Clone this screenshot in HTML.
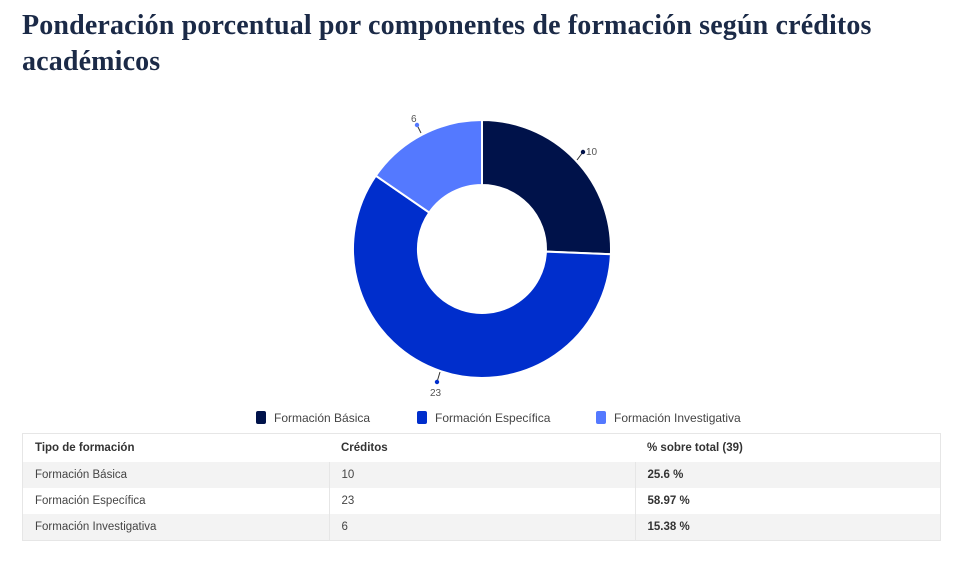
<!DOCTYPE html>
<html><head><meta charset="utf-8"><style>
body{margin:0;background:#fff;width:966px;height:573px;position:relative;font-family:"Liberation Sans",sans-serif;}
h1{position:absolute;left:22px;top:8px;margin:0;font-family:"Liberation Serif",serif;font-weight:bold;font-size:28px;letter-spacing:0.15px;line-height:36px;color:#1b2a47;width:930px;}
table{position:absolute;left:22px;top:433px;width:919px;border-collapse:collapse;font-size:11.5px;color:#444;border:1px solid #e6e6e6;}
td{height:26px;padding:0 0 0 12px;border-right:1px solid #e6e6e6;}
td:last-child{border-right:none}
tr.g td{background:#f3f3f3}
th{height:26px;text-align:left;padding-left:12px;font-weight:bold;color:#333;}
.b{font-weight:bold;color:#333}
.leg{position:absolute;top:411px;font-size:12px;color:#444;}
.leg i{display:inline-block;width:10px;height:13px;border-radius:2px;vertical-align:-2px;margin-right:8px;}
</style></head><body>
<h1>Ponderación porcentual por componentes de formación según créditos académicos</h1>
<svg width="966" height="410" style="position:absolute;left:0;top:0">
<path d="M482,120 A129,129 0 0 1 610.9,254.2 L545.9,251.6 A64,64 0 0 0 482,185 Z" fill="#00124a" stroke="#fff" stroke-width="2"/>
<path d="M610.9,254.2 A129,129 0 1 1 375.8,175.7 L429.3,212.6 A64,64 0 1 0 545.9,251.6 Z" fill="#002ecc" stroke="#fff" stroke-width="2"/>
<path d="M375.8,175.7 A129,129 0 0 1 482,120 L482,185 A64,64 0 0 0 429.3,212.6 Z" fill="#5479ff" stroke="#fff" stroke-width="2"/>
<g font-size="10" fill="#555" font-family="Liberation Sans,sans-serif">
<line x1="577" y1="160" x2="583" y2="152" stroke="#333"/><circle cx="583" cy="152" r="2.2" fill="#00124a"/><text x="586" y="155">10</text>
<line x1="421" y1="133" x2="417" y2="125" stroke="#333"/><circle cx="417" cy="125" r="2.2" fill="#5479ff"/><text x="411" y="122">6</text>
<line x1="440" y1="372" x2="437" y2="382" stroke="#333"/><circle cx="437" cy="382" r="2.2" fill="#002ecc"/><text x="430" y="396">23</text>
</g></svg>
<div class="leg" style="left:256px"><i style="background:#00124a"></i>Formación Básica</div>
<div class="leg" style="left:417px"><i style="background:#002ecc"></i>Formación Específica</div>
<div class="leg" style="left:596px"><i style="background:#5479ff"></i>Formación Investigativa</div>
<table>
<tr><th style="width:293px">Tipo de formación</th><th style="width:293px">Créditos</th><th>% sobre total (39)</th></tr>
<tr class="g"><td>Formación Básica</td><td>10</td><td class="b">25.6 %</td></tr>
<tr><td>Formación Específica</td><td>23</td><td class="b">58.97 %</td></tr>
<tr class="g"><td>Formación Investigativa</td><td>6</td><td class="b">15.38 %</td></tr>
</table>
</body></html>
